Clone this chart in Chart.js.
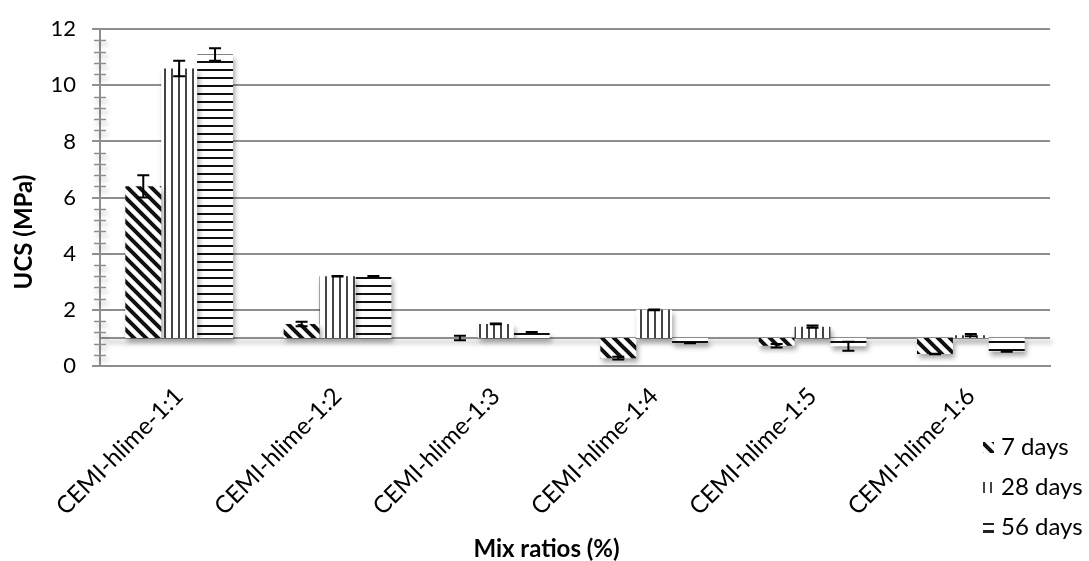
<!DOCTYPE html>
<html>
<head>
<meta charset="utf-8">
<script src="https://cdn.jsdelivr.net/npm/chart.js@4.4.1/dist/chart.umd.min.js"></script>
<style>
	html, body { margin: 0; padding: 0; background: #fff; }
	#wrap { width: 1089px; height: 561px; position: relative; }
</style>
</head>
<body>
<div id="wrap"><canvas id="ucs_bar"></canvas></div>
<script>
const labels = ['CEMI-hlime-1:1', 'CEMI-hlime-1:2', 'CEMI-hlime-1:3', 'CEMI-hlime-1:4', 'CEMI-hlime-1:5', 'CEMI-hlime-1:6'];
const seriesNames = ['7 days', '28 days', '56 days'];
const ucs7 = [6.4, 1.5, 1.0, 0.28, 0.72, 0.43];
const ucs28 = [10.6, 3.2, 1.5, 2.0, 1.4, 1.1];
const ucs56 = [11.1, 3.2, 1.2, 0.82, 0.7, 0.52];
const err7 = [0.4, 0.08, 0.08, 0.05, 0.06, 0.01];
const err28 = [0.28, 0.01, 0.01, 0.01, 0.04, 0.04];
const err56 = [0.22, 0.01, 0.01, 0.01, 0.16, 0.01];
const yTicks = [0, 2, 4, 6, 8, 10, 12];
const baseValue = 1;

const FONT = 'Lato, "Open Sans", sans-serif';

// pattern fills
function makePattern(kind) {
	const c = document.createElement('canvas');
	const x = c.getContext('2d');
	if (kind === 'diag') {
		const s = 12;
		c.width = s; c.height = s;
		x.fillStyle = '#fff'; x.fillRect(0, 0, s, s);
		x.strokeStyle = '#111'; x.lineWidth = 4;
		x.beginPath();
		x.moveTo(-s, -s); x.lineTo(2 * s, 2 * s);
		x.moveTo(-s, 0); x.lineTo(s, 2 * s);
		x.moveTo(0, -s); x.lineTo(2 * s, s);
		x.stroke();
	} else if (kind === 'vert') {
		c.width = 7; c.height = 4;
		x.fillStyle = '#fff'; x.fillRect(0, 0, 7, 4);
		x.fillStyle = '#444'; x.fillRect(3, 0, 2, 4);
	} else {
		c.width = 4; c.height = 8;
		x.fillStyle = '#fff'; x.fillRect(0, 0, 4, 8);
		x.fillStyle = '#111'; x.fillRect(0, 5, 4, 2);
	}
	return document.createElement('canvas').getContext('2d').createPattern(c, 'repeat');
}
const patterns = [makePattern('diag'), makePattern('vert'), makePattern('horiz')];

// shadow under bars
const shadowPlugin = {
	id: 'barShadow',
	beforeDatasetsDraw(chart) {
		const ctx = chart.ctx;
		ctx.save();
		ctx.shadowColor = 'rgba(0,0,0,0.35)';
		ctx.shadowBlur = 5;
		ctx.shadowOffsetX = 2;
		ctx.shadowOffsetY = 4;
	},
	afterDatasetsDraw(chart) {
		chart.ctx.restore();
	}
};

// axis line at 1, minor ticks, error bars, legend, titles
const extrasPlugin = {
	id: 'extras',
	beforeDatasetsDraw(chart) {
		const ctx = chart.ctx;
		const y = chart.scales.y;
		const a = chart.chartArea;
		ctx.save();
		ctx.strokeStyle = '#8e8e8e';
		ctx.lineWidth = 2;
		const y1 = Math.round(y.getPixelForValue(baseValue));
		ctx.beginPath();
		ctx.moveTo(a.left, y1); ctx.lineTo(a.right, y1);
		ctx.stroke();
		ctx.lineWidth = 1.5;
		for (let v = 0.4; v < 12; v += 0.4) {
			if (Math.abs(v / 2 - Math.round(v / 2)) < 0.01) continue;
			const py = Math.round(y.getPixelForValue(v)) + 0.5;
			ctx.beginPath();
			ctx.moveTo(a.left - 6, py); ctx.lineTo(a.left + 6, py);
			ctx.stroke();
		}
		ctx.restore();
	},
	afterDatasetsDraw(chart) {
		const ctx = chart.ctx;
		const y = chart.scales.y;
		const errs = [err7, err28, err56];
		ctx.save();
		ctx.strokeStyle = '#000';
		ctx.lineWidth = 2;
		chart.data.datasets.forEach((ds, di) => {
			const meta = chart.getDatasetMeta(di);
			meta.data.forEach((bar, i) => {
				const v = ds.data[i];
				const e = errs[di][i];
				const top = y.getPixelForValue(v + e);
				const bot = y.getPixelForValue(v - e);
				const cx = bar.x;
				ctx.beginPath();
				ctx.moveTo(cx, top); ctx.lineTo(cx, bot);
				ctx.moveTo(cx - 6, top); ctx.lineTo(cx + 6, top);
				ctx.moveTo(cx - 6, bot); ctx.lineTo(cx + 6, bot);
				ctx.stroke();
			});
		});
		ctx.restore();
	},
	afterDraw(chart) {
		const ctx = chart.ctx;
		const a = chart.chartArea;
		ctx.save();
		// legend
		ctx.font = '24px ' + FONT;
		ctx.textBaseline = 'middle';
		seriesNames.forEach((name, i) => {
			const ly = 447 + i * 40;
			if (i === 2) {
				ctx.fillStyle = '#fff';
				ctx.fillRect(983, ly - 5, 11, 11);
				ctx.fillStyle = '#222';
				ctx.fillRect(983, ly - 4, 11, 2);
				ctx.fillRect(983, ly + 3, 11, 3);
			} else {
				ctx.fillStyle = patterns[i];
				ctx.fillRect(983, ly - 5, 11, 11);
			}
			ctx.fillStyle = '#000';
			ctx.fillText(name, 1001, ly);
		});
		// x axis title
		ctx.fillStyle = '#000';
		ctx.font = 'bold 24px ' + FONT;
		ctx.textAlign = 'center';
		ctx.fillText('Mix ratios (%)', a.left + (a.right - a.left) * 0.47, 549);
		// y axis title
		ctx.translate(24, 232);
		ctx.rotate(-Math.PI / 2);
		ctx.fillText('UCS (MPa)', 0, 0);
		ctx.restore();
	}
};

const data = {
	labels: labels,
	datasets: [ucs7, ucs28, ucs56].map((vals, i) => ({
		label: seriesNames[i],
		data: vals,
		base: baseValue,
		backgroundColor: patterns[i],
		borderWidth: 0,
		barPercentage: 1.0,
		categoryPercentage: 0.68
	}))
};

const config = {
	type: 'bar',
	data: data,
	options: {
		responsive: true,
		maintainAspectRatio: false,
		animation: false,
		layout: { padding: { left: 0, right: 39, top: 21, bottom: 0 } },
		scales: {
			x: {
				grid: { display: false },
				border: { display: true, color: '#8e8e8e', width: 2 },
				ticks: {
					color: '#000',
					font: { family: FONT, size: 24 },
					maxRotation: 45,
					minRotation: 45,
					padding: 8
				},
				afterFit(scale) { scale.height = 195; }
			},
			y: {
				min: 0,
				max: 12,
				afterBuildTicks(scale) { scale.ticks = yTicks.map(v => ({ value: v })); },
				grid: { color: '#8e8e8e', lineWidth: 2, tickLength: 8 },
				border: { display: true, color: '#8e8e8e', width: 2 },
				ticks: {
					color: '#000',
					font: { family: FONT, size: 22 },
					padding: 16
				},
				afterFit(scale) { scale.width = 100; }
			}
		},
		plugins: {
			legend: { display: false },
			tooltip: { enabled: false }
		}
	},
	plugins: [shadowPlugin, extrasPlugin]
};

var ctx = document.getElementById('ucs_bar');
if (ctx != null) {
	const chart = new Chart(ctx, config);
}
</script>
</body>
</html>
